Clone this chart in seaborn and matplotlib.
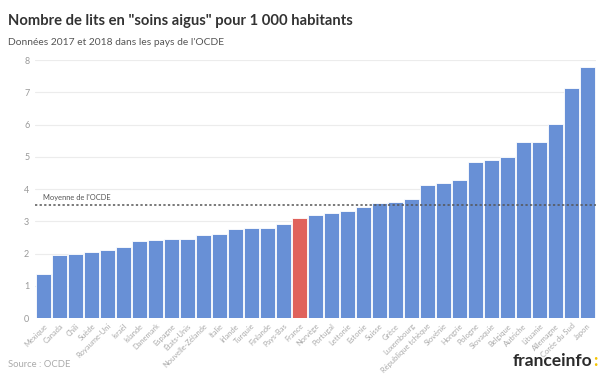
import matplotlib
matplotlib.use("Agg")
import matplotlib.pyplot as plt
import seaborn as sns
import pandas as pd

countries = ["Mexique", "Canada", "Chili", "Suède", "Royaume-Uni", "Israël", "Islande",
             "Danemark", "Espagne", "États-Unis", "Nouvelle-Zélande", "Italie", "Irlande",
             "Turquie", "Finlande", "Pays-Bas", "France", "Norvège", "Portugal", "Lettonie",
             "Estonie", "Suisse", "Grèce", "Luxembourg", "République tchèque", "Slovénie",
             "Hongrie", "Pologne", "Slovaquie", "Belgique", "Autriche", "Lituanie",
             "Allemagne", "Corée du Sud", "Japon"]
beds = [1.38, 1.95, 2.00, 2.05, 2.11, 2.20, 2.38, 2.43, 2.44, 2.44, 2.59, 2.62, 2.77,
        2.78, 2.80, 2.93, 3.09, 3.20, 3.26, 3.32, 3.46, 3.56, 3.60, 3.70, 4.12, 4.20,
        4.27, 4.85, 4.90, 5.00, 5.45, 5.47, 6.02, 7.14, 7.79]
oecd_mean = 3.5
highlight = "France"

df = pd.DataFrame({"pays": countries, "lits": beds})

sns.set_style("white")
plt.rcParams['font.family'] = ['Lato', 'DejaVu Sans']

fig = plt.figure(figsize=(6.12, 3.76), dpi=100)
ax = fig.add_axes([0.057, 0.154, 0.917, 0.686])

blue = "#6890d6"
red = "#e0625c"
palette = {c: (red if c == highlight else blue) for c in countries}
sns.barplot(data=df, x="pays", y="lits", hue="pays", palette=palette, legend=False,
            ax=ax, width=0.92, edgecolor="white", linewidth=0.6, saturation=1)

ax.set_ylim(0, 8)
ax.set_xlim(-0.55, len(countries) - 0.45)
ax.set_yticks(range(0, 9))
ax.grid(axis="y", color="#ececec", linewidth=0.8)
ax.set_axisbelow(True)
for s in ax.spines.values():
    s.set_visible(False)
ax.set_xlabel("")
ax.set_ylabel("")
ax.tick_params(axis="y", length=0, labelsize=6.5, labelcolor="#999999", pad=4)
ax.tick_params(axis="x", length=0, labelsize=5.4, labelcolor="#aaaaaa", pad=3)
ax.set_xticks(range(len(countries)))
ax.set_xticklabels(countries, rotation=45, ha="right", rotation_mode="anchor")

ax.axhline(oecd_mean, color="#555555", linestyle=(0, (1.5, 1.5)), linewidth=1.1, zorder=5)
ax.text(-0.05, oecd_mean + 0.13, "Moyenne de l'OCDE", fontsize=5.4, color="#555555",
        ha="left", va="bottom")

fig.text(0.013, 0.945, 'Nombre de lits en "soins aigus" pour 1 000 habitants',
         fontsize=10.6, fontweight="bold", color="#333333", ha="left", va="center")
fig.text(0.013, 0.888, "Données 2017 et 2018 dans les pays de l'OCDE",
         fontsize=7.4, color="#555555", ha="left", va="center")
fig.text(0.013, 0.03, "Source : OCDE", fontsize=6.8, color="#aaaaaa", ha="left", va="center")
fig.text(0.968, 0.04, "franceinfo", fontsize=12.5, fontweight="bold",
         color="#2b2b2b", ha="right", va="center")
fig.text(0.969, 0.04, ":", fontsize=12.5, fontweight="bold", color="#f5c400",
         ha="left", va="center")

fig.savefig("out.png", dpi=100)
